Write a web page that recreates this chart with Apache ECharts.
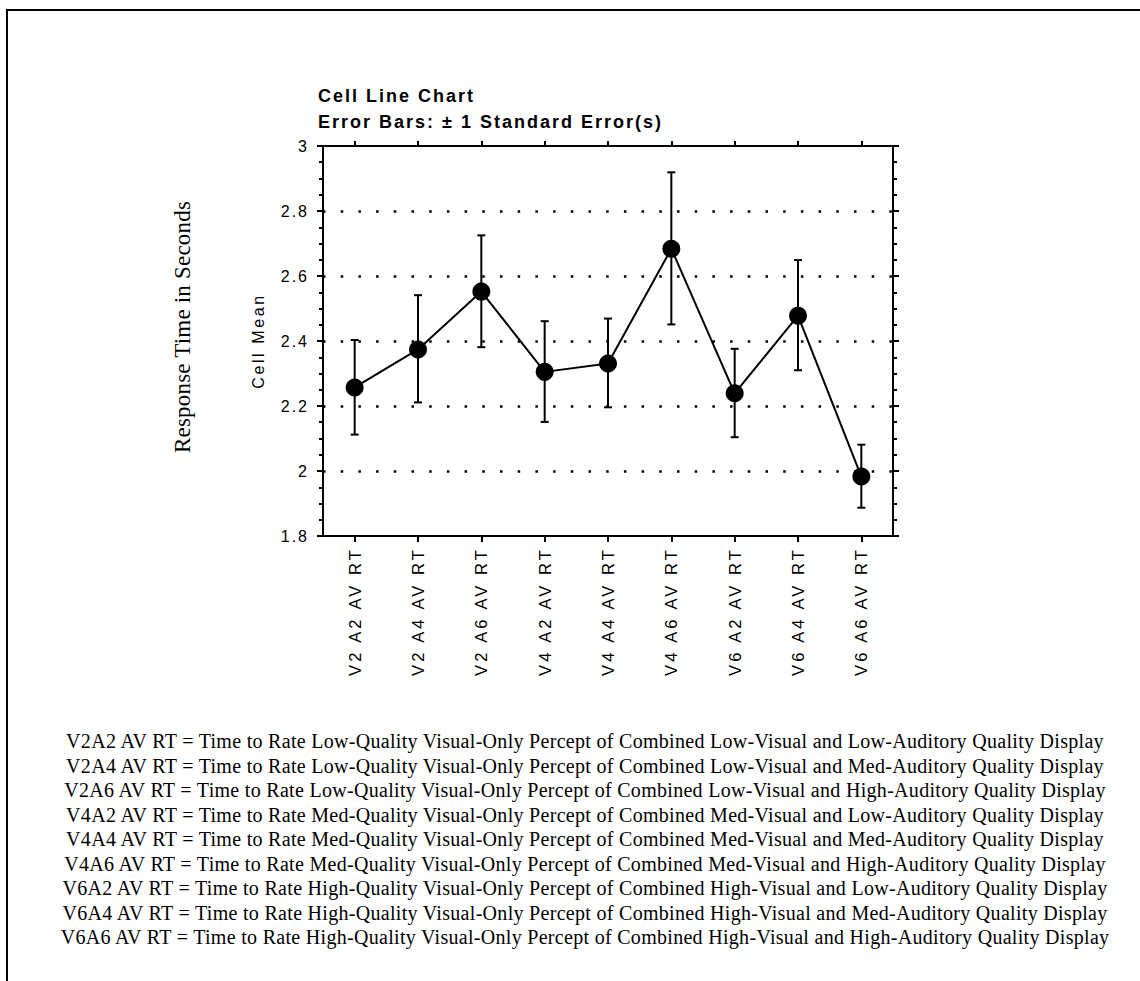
<!DOCTYPE html>
<html>
<head>
<meta charset="utf-8">
<script src="https://cdn.jsdelivr.net/npm/echarts@6/dist/echarts.min.js"></script>
<style>
html,body{margin:0;padding:0;background:#fff;}
#chart{width:1140px;height:981px;}
/* loose tracking of the original typesetting */
#chart text[style*="zzTtl"]{letter-spacing:2px;}
#chart text[style*="zzXl"]{letter-spacing:3.1px;}
#chart text[style*="zzYl"]{letter-spacing:2px;}
#chart text[style*="zzYn"]{letter-spacing:2.6px;}
#chart text[style*="zzOut"]{letter-spacing:0.2px;}
#chart text[style*="zzFt"]{letter-spacing:0.3px;}
</style>
</head>
<body>
<div id="chart"></div>
<script>
const categories = ['V2 A2 AV RT','V2 A4 AV RT','V2 A6 AV RT','V4 A2 AV RT','V4 A4 AV RT','V4 A6 AV RT','V6 A2 AV RT','V6 A4 AV RT','V6 A6 AV RT'];
const cellMeans = [2.257, 2.374, 2.552, 2.305, 2.331, 2.684, 2.239, 2.478, 1.983];
const errUpper = [2.403, 2.541, 2.725, 2.461, 2.469, 2.919, 2.376, 2.649, 2.081];
const errLower = [2.112, 2.211, 2.381, 2.151, 2.196, 2.451, 2.104, 2.310, 1.887];
const yTicks = {min: 1.8, max: 3, interval: 0.2};
const gridValues = [2.0, 2.2, 2.4, 2.6, 2.8];
const titleLines = ['Cell Line Chart', 'Error Bars: \u00b1 1 Standard Error(s)'];
const yAxisName = 'Cell Mean';
const outerAxisName = 'Response Time in Seconds';
const footnotes = [
  'V2A2 AV RT = Time to Rate Low-Quality Visual-Only Percept of Combined Low-Visual and Low-Auditory Quality Display',
  'V2A4 AV RT = Time to Rate Low-Quality Visual-Only Percept of Combined Low-Visual and Med-Auditory Quality Display',
  'V2A6 AV RT = Time to Rate Low-Quality Visual-Only Percept of Combined Low-Visual and High-Auditory Quality Display',
  'V4A2 AV RT = Time to Rate Med-Quality Visual-Only Percept of Combined Med-Visual and Low-Auditory Quality Display',
  'V4A4 AV RT = Time to Rate Med-Quality Visual-Only Percept of Combined Med-Visual and Med-Auditory Quality Display',
  'V4A6 AV RT = Time to Rate Med-Quality Visual-Only Percept of Combined Med-Visual and High-Auditory Quality Display',
  'V6A2 AV RT = Time to Rate High-Quality Visual-Only Percept of Combined High-Visual and Low-Auditory Quality Display',
  'V6A4 AV RT = Time to Rate High-Quality Visual-Only Percept of Combined High-Visual and Med-Auditory Quality Display',
  'V6A6 AV RT = Time to Rate High-Quality Visual-Only Percept of Combined High-Visual and High-Auditory Quality Display'
];

const SANS = '"Liberation Sans", Arial, sans-serif';
const SERIF = '"Liberation Serif", "Times New Roman", serif';
const fam = (base, tag) => base.replace('sans-serif', tag + ', sans-serif').replace(/, serif$/, ', ' + tag + ', serif');

const chart = echarts.init(document.getElementById('chart'), null, {renderer: 'svg'});

const errData = categories.map((c, i) => [i, errLower[i], errUpper[i]]);

const footGraphics = footnotes.map((t, i) => ({
  type: 'text', x: 585, y: 741 + i * 24.5,
  style: {text: t, font: '20px ' + fam(SERIF, 'zzFt'), fill: '#000', align: 'center', verticalAlign: 'middle'}
}));

const catTick = (len) => ({show: true, interval: 0, alignWithLabel: true, inside: false, length: len, lineStyle: {color: '#000', width: 2}});

const option = {
  backgroundColor: '#fff',
  animation: false,
  title: {
    text: titleLines.join('\n'),
    left: 318, top: 83, padding: 0,
    textStyle: {fontFamily: fam(SANS, 'zzTtl'), fontWeight: 'bold', fontSize: 18, lineHeight: 26, color: '#000'}
  },
  grid: {left: 323, right: 247, top: 146, bottom: 445},
  xAxis: [{
    type: 'category', data: categories, position: 'bottom', boundaryGap: true,
    axisLine: {onZero: false, lineStyle: {color: '#000', width: 2}},
    axisTick: catTick(6),
    axisLabel: {rotate: 90, margin: 11, color: '#000', fontFamily: fam(SANS, 'zzXl'), fontSize: 16.5, interval: 0}
  }, {
    type: 'category', data: categories, position: 'top', boundaryGap: true,
    axisLine: {onZero: false, lineStyle: {color: '#000', width: 2}},
    axisTick: catTick(5),
    axisLabel: {show: false, interval: 0}
  }],
  yAxis: [{
    type: 'value', min: yTicks.min, max: yTicks.max, interval: yTicks.interval, position: 'left',
    name: yAxisName, nameLocation: 'middle', nameGap: 57, nameRotate: 90,
    nameTextStyle: {fontFamily: fam(SANS, 'zzYn'), fontSize: 16, color: '#000'},
    axisLine: {show: true, lineStyle: {color: '#000', width: 2}},
    axisTick: {show: true, length: 6, lineStyle: {color: '#000', width: 2}},
    minorTick: {show: true, splitNumber: 4, length: 4, lineStyle: {color: '#000', width: 2}},
    axisLabel: {margin: 14, color: '#000', fontFamily: fam(SANS, 'zzYl'), fontSize: 16},
    splitLine: {show: false}
  }, {
    type: 'value', min: yTicks.min, max: yTicks.max, interval: yTicks.interval, position: 'right',
    axisLine: {show: true, lineStyle: {color: '#000', width: 2}},
    axisTick: {show: true, length: 6, lineStyle: {color: '#000', width: 2}},
    minorTick: {show: true, splitNumber: 4, length: 4, lineStyle: {color: '#000', width: 2}},
    axisLabel: {show: false},
    splitLine: {show: false}
  }],
  graphic: [
    {type: 'rect', shape: {x: 7, y: 10, width: 1300, height: 1200}, style: {fill: 'none', stroke: '#000', lineWidth: 2}},
    {type: 'text', x: 182, y: 327, rotation: Math.PI / 2,
     style: {text: outerAxisName, font: '23px ' + fam(SERIF, 'zzOut'), fill: '#000', align: 'center', verticalAlign: 'middle'}}
  ].concat(footGraphics),
  series: [{
    type: 'custom', xAxisIndex: 0, yAxisIndex: 0, data: errData, z: 3,
    renderItem: function (params, api) {
      const x = api.value(0);
      const lo = api.coord([x, api.value(1)]);
      const hi = api.coord([x, api.value(2)]);
      const hw = 4;
      const st = {stroke: '#000', lineWidth: 2};
      return {type: 'group', children: [
        {type: 'line', shape: {x1: lo[0], y1: lo[1], x2: hi[0], y2: hi[1]}, style: st},
        {type: 'line', shape: {x1: lo[0] - hw, y1: lo[1], x2: lo[0] + hw, y2: lo[1]}, style: st},
        {type: 'line', shape: {x1: hi[0] - hw, y1: hi[1], x2: hi[0] + hw, y2: hi[1]}, style: st}
      ]};
    }
  }, {
    type: 'line', data: cellMeans, xAxisIndex: 0, yAxisIndex: 0, z: 4,
    symbol: 'circle', symbolSize: 18,
    lineStyle: {color: '#000', width: 2},
    itemStyle: {color: '#000'},
    markLine: {
      silent: true, symbol: ['none', 'none'], label: {show: false}, z: 1,
      lineStyle: {color: '#000', width: 2.5, type: [2.5, 15.2], dashOffset: 0},
      emphasis: {disabled: true},
      data: gridValues.map(v => ({yAxis: v}))
    }
  }]
};
chart.setOption(option);
</script>
</body>
</html>
